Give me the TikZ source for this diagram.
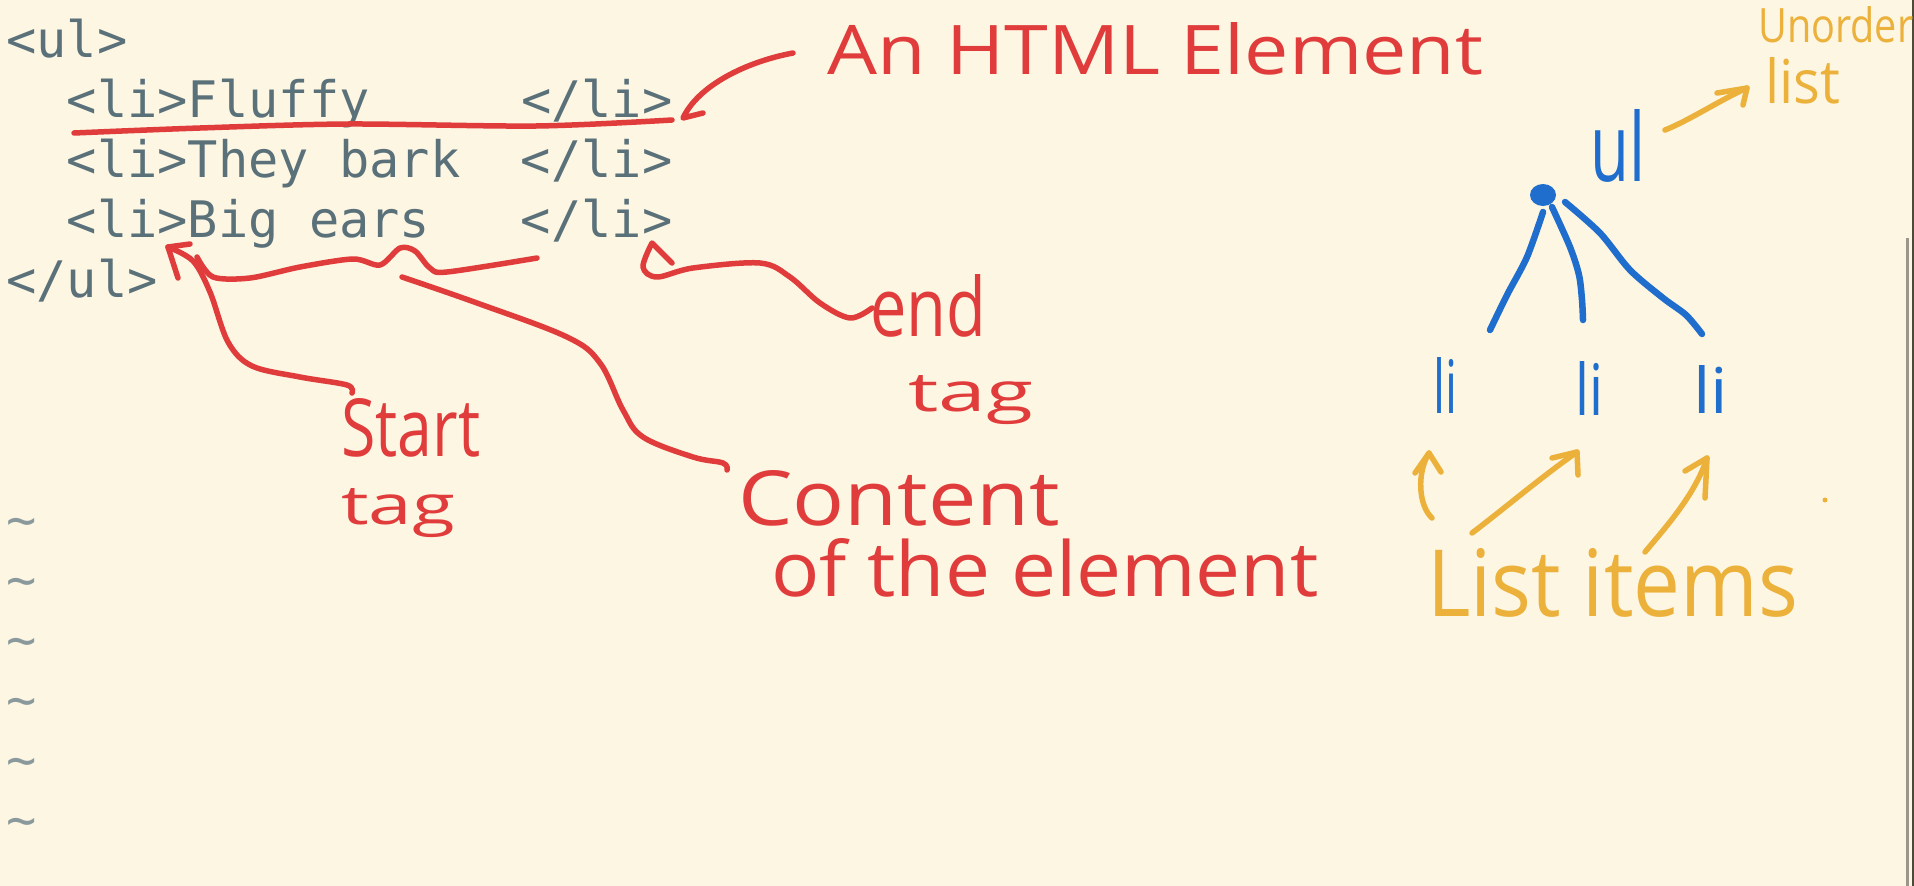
\documentclass[tikz,border=0pt]{standalone}
\usepackage{fontspec}
\usepackage{graphicx}
\usetikzlibrary{shapes.geometric}
\setmonofont{DejaVu Sans Mono}
\newfontfamily\hwfont{Open Sans}
\definecolor{bg}{HTML}{FDF6E3}
\definecolor{codecol}{HTML}{5B717A}
\definecolor{tildecol}{HTML}{8A9A9C}
\definecolor{pen}{HTML}{E03C3C}
\definecolor{bluepen}{HTML}{1F6DCC}
\definecolor{gold}{HTML}{EBB13A}
\definecolor{scrollcol}{HTML}{9A968C}
\definecolor{edgecol}{HTML}{4E4A3A}
\newcommand{\hw}[3]{\resizebox{#1pt}{#2pt}{\hwfont #3}}
\begin{document}
\begin{tikzpicture}[x=1pt,y=-1pt,
  codeline/.style={anchor=base west, inner sep=0pt, text=codecol, font=\ttfamily\fontsize{50.3}{60}\selectfont},
  tildeline/.style={codeline, text=tildecol},
  hand/.style={anchor=base west, inner sep=0pt},
  redink/.style={draw=pen, line width=5.5pt, line cap=round, line join=round},
  blueink/.style={draw=bluepen, line width=6.5pt, line cap=round, line join=round},
  goldink/.style={draw=gold, line width=5.5pt, line cap=round, line join=round},
]
\fill[bg] (0,0) rectangle (1914,886);
\useasboundingbox (0,0) rectangle (1914,886);

% ---- code (vim buffer)
\node[codeline] (c1) at (6,57)  {<ul>};
\node[codeline] (c2) at (6,117) {\ \ <li>Fluffy\ \ \ \ \ </li>};
\node[codeline] (c3) at (6,177) {\ \ <li>They bark\ \ </li>};
\node[codeline] (c4) at (6,237) {\ \ <li>Big ears\ \ \ </li>};
\node[codeline] (c5) at (6,297) {</ul>};
\foreach \k in {0,...,5}{
  \node[tildeline] (t\k) at (6,537+60*\k) {\textasciitilde};
}

% ---- scrollbar and window edge
\draw[scrollcol, line width=3pt] (1907.5,238) -- (1907.5,886);
\draw[edgecol, line width=2pt] (1913,0) -- (1913,886);

% ---- red annotations
\node[hand, text=pen] (lblHTML) at (827,74) {\hw{656}{52}{An HTML Element}};
\node[hand, text=pen] (lblEnd) at (870,336) {\hw{116}{62}{end}};
\node[hand, text=pen] (lblEndTag) at (908,411) {\hw{125}{36}{tag}};
\node[hand, text=pen] (lblStart) at (341,456) {\hw{139}{58}{Start}};
\node[hand, text=pen] (lblStartTag) at (341,524) {\hw{114}{36}{tag}};
\node[hand, text=pen] (lblContent) at (738,525) {\hw{322}{55}{Content}};
\node[hand, text=pen] (lblOf) at (771,596) {\hw{547}{58}{of the element}};

% underline of the element
\draw[redink] plot[smooth, tension=0.5] coordinates {(74,133) (200,128) (348,124) (536,126) (672,120)};

% An HTML Element arrow
\coordinate (htmlFrom) at (793,53);
\coordinate (htmlTip) at (683,118);
\coordinate (htmlBarb) at (703,113);
\draw[redink] (htmlFrom) .. controls (745,62) and (698,86) .. (htmlTip) -- (htmlBarb);

% end tag arrow
\coordinate (endFrom) at (872,308);
\coordinate (endTip) at (652,243);
\coordinate (endBarb) at (672,263);
\draw[redink] plot[smooth, tension=0.55] coordinates {(endFrom) (850,318) (820,303) (790,277) (760,263) (693,268) (657,277) (643,267) (endTip)} -- (endBarb);

% start tag arrow
\coordinate (startFrom) at (352,393);
\coordinate (startTip) at (168,247);
\draw[redink] plot[smooth, tension=0.55] coordinates {(startFrom) (347,385) (300,377) (252,366) (228,342) (210,292) (193,261) (startTip)};
\draw[redink] (190,244) -- (startTip) -- (178,278);

% brace under the content
\draw[redink] plot[smooth, tension=0.5] coordinates {(197,257) (213,277) (250,278) (300,267) (353,259) (380,265) (400,248) (415,251) (430,268) (447,272) (537,258)};

% content connector
\coordinate (contFrom) at (402,277);
\coordinate (contTo) at (727,470);
\draw[redink] plot[smooth, tension=0.6] coordinates {(contFrom) (477,303) (567,337) (600,363) (623,410) (643,437) (693,457) (723,463) (contTo)};

% ---- blue tree
\node[ellipse, fill=bluepen, minimum width=26pt, minimum height=22pt, inner sep=0pt] (root) at (1543,195) {};
\node[hand, text=bluepen] (ul) at (1590,181) {\hw{55}{72}{ul}};
\node[hand, text=bluepen] (li1) at (1433,413) {\hw{24}{56}{li}};
\node[hand, text=bluepen] (li2) at (1575,415) {\hw{28}{54}{li}};
\node[hand, text=bluepen] (li3) at (1693,413) {\hw{35}{48}{li}};
\coordinate (b1) at (1490,330);
\coordinate (b2) at (1583,320);
\coordinate (b3) at (1702,334);
\draw[blueink] plot[smooth] coordinates {(1543,212) (1527,257) (1507,295) (b1)};
\draw[blueink] plot[smooth] coordinates {(1552,207) (1570,247) (1579,275) (1582,300) (b2)};
\draw[blueink] plot[smooth] coordinates {(1565,202) (1600,233) (1630,270) (1663,298) (1686,315) (b3)};

% ---- gold annotations
\node[hand, text=gold] (lblUnorder) at (1758,42) {\hw{155}{36}{Unorder}};
\node[hand, text=gold] (lblList) at (1765,103) {\hw{75}{46}{list}};
\node[hand, text=gold] (lblItems) at (1427,616) {\hw{371}{68}{List items}};

\coordinate (ulFrom) at (1665,130);
\coordinate (ulTip) at (1747,88);
\draw[goldink] (ulFrom) .. controls (1690,120) and (1720,100) .. (ulTip);
\draw[goldink] (1717,93) -- (ulTip) -- (1743,105);

\coordinate (aFrom) at (1432,518);
\coordinate (aTip) at (1429,453);
\draw[goldink] (aFrom) .. controls (1418,505) and (1417,472) .. (aTip);
\draw[goldink] (1415,473) -- (aTip) -- (1441,472);

\coordinate (bFrom) at (1472,533);
\coordinate (bTip) at (1577,452);
\draw[goldink] (bFrom) .. controls (1505,508) and (1540,478) .. (bTip);
\draw[goldink] (1552,458) -- (bTip) -- (1578,475);

\coordinate (cFrom) at (1645,552);
\coordinate (cTip) at (1707,458);
\draw[goldink] (cFrom) .. controls (1665,528) and (1695,495) .. (cTip);
\draw[goldink] (1685,471) -- (cTip) -- (1705,498);

\fill[gold] (1825,500) circle (2.5);
\end{tikzpicture}
\end{document}
